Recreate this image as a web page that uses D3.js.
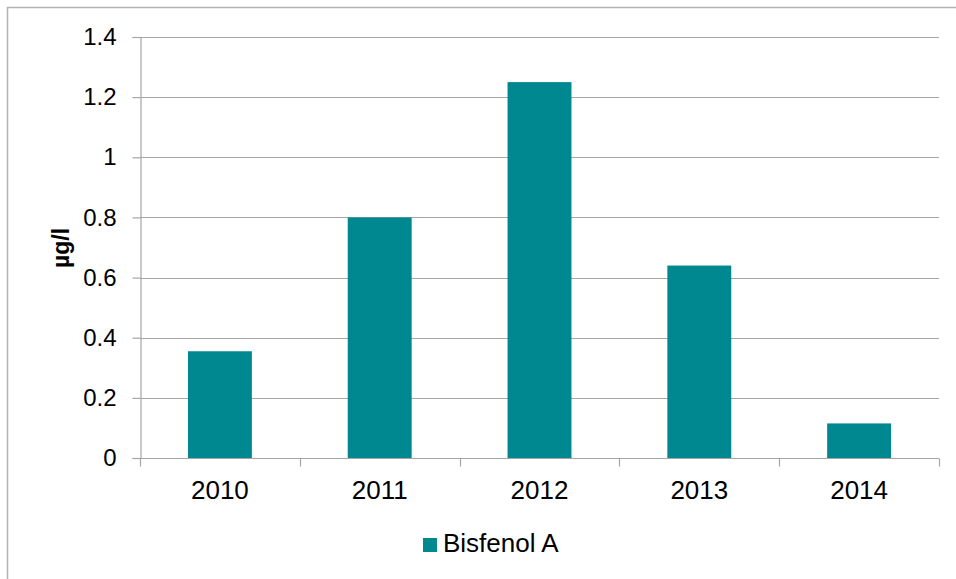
<!DOCTYPE html>
<html>
<head>
<meta charset="utf-8">
<script src="https://cdn.jsdelivr.net/npm/d3@7"></script>
<style>
  body { margin: 0; background: #fff; }
  text { font-family: "Liberation Sans", Arial, sans-serif; }
</style>
</head>
<body>
<svg id="chart" width="956" height="579"></svg>
<script>
  const years = ['2010', '2011', '2012', '2013', '2014'];
  const values = [0.355, 0.8, 1.25, 0.64, 0.115];
  const yTicks = [0, 0.2, 0.4, 0.6, 0.8, 1, 1.2, 1.4];
  const seriesName = 'Bisfenol A';

  const svg = d3.select('#chart');
  const barColor = '#008891';
  const gridColor = '#a6a6a6';

  // outer frame (cut off at right and bottom)
  svg.append('rect')
    .attr('x', 7.5).attr('y', 7.5)
    .attr('width', 960).attr('height', 590)
    .attr('fill', 'none')
    .attr('stroke', '#b3b3b3')
    .attr('stroke-width', 1.5);

  const margin = { left: 140, right: 939, top: 37, bottom: 458 };

  const x = d3.scaleBand()
    .domain(years)
    .range([margin.left, margin.right])
    .paddingInner(0.6)
    .paddingOuter(0.3);

  const y = d3.scaleLinear()
    .domain([0, 1.4])
    .range([margin.bottom, margin.top]);

  // gridlines
  svg.append('g')
    .selectAll('line')
    .data(yTicks.filter(d => d > 0))
    .enter()
    .append('line')
    .attr('x1', margin.left)
    .attr('x2', margin.right)
    .attr('y1', d => Math.round(y(d)) + 0.5)
    .attr('y2', d => Math.round(y(d)) + 0.5)
    .attr('stroke', gridColor)
    .attr('stroke-width', 1.2);

  // bars
  svg.append('g')
    .selectAll('rect')
    .data(values)
    .enter()
    .append('rect')
    .attr('x', (d, i) => x(years[i]))
    .attr('y', d => y(d))
    .attr('width', x.bandwidth())
    .attr('height', d => y(0) - y(d))
    .attr('fill', barColor);

  // y axis
  const yAxis = svg.append('g')
    .attr('transform', `translate(${margin.left + 0.5},0)`)
    .call(d3.axisLeft(y).tickValues(yTicks).tickFormat(d3.format('')).tickSize(8).tickPadding(16));
  yAxis.select('.domain').attr('stroke', gridColor).attr('stroke-width', 1.2);
  yAxis.selectAll('.tick line').attr('stroke', gridColor).attr('stroke-width', 1.2);
  yAxis.selectAll('.tick text')
    .attr('font-size', 24)
    .attr('fill', '#000')
    .style('font-family', '"Liberation Sans", Arial, sans-serif');

  // x axis
  const xPos = d3.scalePoint().domain(d3.range(years.length + 1)).range([margin.left, margin.right]);
  const xAxisG = svg.append('g').attr('transform', `translate(0,${Math.round(y(0)) + 0.5})`);
  xAxisG.append('line')
    .attr('x1', margin.left).attr('x2', margin.right)
    .attr('stroke', gridColor).attr('stroke-width', 1.2);
  xAxisG.selectAll('.xtick')
    .data(xPos.domain())
    .enter()
    .append('line')
    .attr('class', 'xtick')
    .attr('x1', d => Math.round(xPos(d)) + 0.5)
    .attr('x2', d => Math.round(xPos(d)) + 0.5)
    .attr('y1', 0).attr('y2', 8)
    .attr('stroke', gridColor).attr('stroke-width', 1.2);
  xAxisG.selectAll('.xlabel')
    .data(years)
    .enter()
    .append('text')
    .attr('class', 'xlabel')
    .attr('x', d => x(d) + x.bandwidth() / 2)
    .attr('y', 40)
    .attr('text-anchor', 'middle')
    .attr('font-size', 26)
    .text(d => d);

  // y axis title
  svg.append('text')
    .attr('transform', 'translate(69,248) rotate(-90)')
    .attr('text-anchor', 'middle')
    .attr('font-size', 23)
    .attr('font-weight', 'bold')
    .text('µg/l');

  // legend
  const legend = svg.append('g').attr('transform', 'translate(423,538)');
  legend.append('rect')
    .attr('width', 14).attr('height', 14)
    .attr('fill', barColor);
  legend.append('text')
    .attr('x', 20).attr('y', 14)
    .attr('font-size', 26)
    .text(seriesName);
</script>
</body>
</html>
